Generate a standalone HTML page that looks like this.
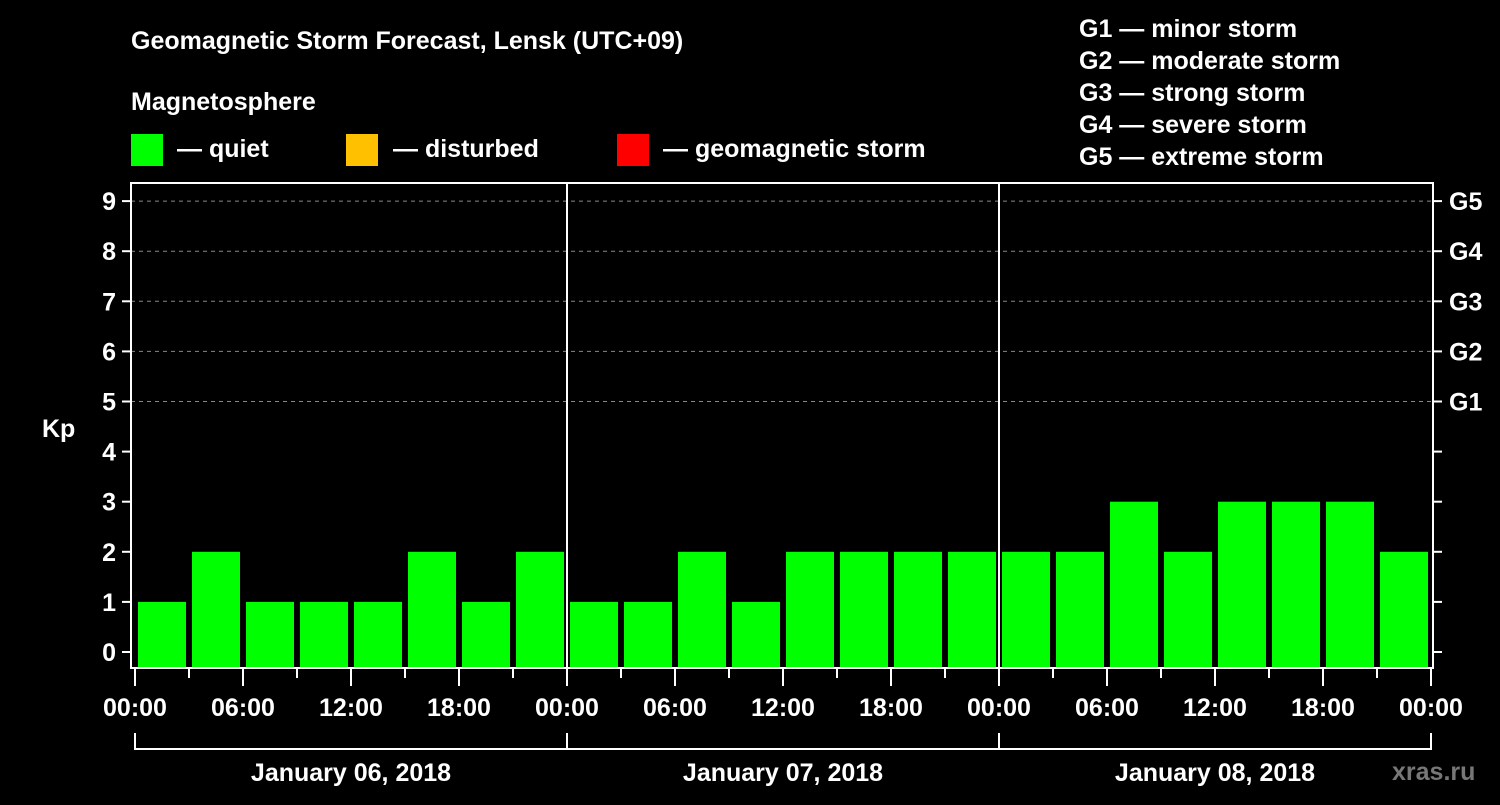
<!DOCTYPE html>
<html><head><meta charset="utf-8"><style>
html,body{margin:0;padding:0;background:#000;}
svg text{font-family:"Liberation Sans",Arial,sans-serif;font-weight:bold;fill:#fff;}
</style></head><body>
<svg id="chart" width="1500" height="800" viewBox="0 0 1500 800" xmlns="http://www.w3.org/2000/svg">
<rect width="1500" height="800" fill="#000"/>
<text x="131" y="49" font-size="25">Geomagnetic Storm Forecast, Lensk (UTC+09)</text>
<text x="131" y="110" font-size="25">Magnetosphere</text>
<g>
<rect x="131" y="134" width="32" height="32" fill="#00ff00"/>
<text x="177" y="157" font-size="25">— quiet</text>
<rect x="346" y="134" width="32" height="32" fill="#ffc000"/>
<text x="393" y="157" font-size="25">— disturbed</text>
<rect x="617" y="134" width="32" height="32" fill="#ff0000"/>
<text x="663" y="157" font-size="25">— geomagnetic storm</text>
</g>
<g font-size="25">
<text x="1079" y="37">G1 — minor storm</text>
<text x="1079" y="69">G2 — moderate storm</text>
<text x="1079" y="101">G3 — strong storm</text>
<text x="1079" y="133">G4 — severe storm</text>
<text x="1079" y="165">G5 — extreme storm</text>
</g>
<text x="42" y="437" font-size="25">Kp</text>
<text x="1392" y="780" font-size="25" fill="#777" style="fill:#777">xras.ru</text>
<g id="grid"></g>
<g id="bars"></g>
<g id="axes"></g>
</svg>
<script>
const dayLabels = ["January 06, 2018","January 07, 2018","January 08, 2018"];
const kpValues = [1,2,1,1,1,2,1,2, 1,1,2,1,2,2,2,2, 2,2,3,2,3,3,3,2];
const yTicks = [0,1,2,3,4,5,6,7,8,9];
const gLabels = ["G1","G2","G3","G4","G5"];
const timeLabels = ["00:00","06:00","12:00","18:00"];

const NS="http://www.w3.org/2000/svg";
const X0=135, SLOT=54, Y0=652, UNIT=50.1, LEFT=131, RIGHT=1433, TOP=183, BOTTOM=668;
const xs = i => X0 + i*SLOT;
const ys = v => Y0 - v*UNIT;
function mk(tag, attrs, parent){const e=document.createElementNS(NS,tag);for(const k in attrs)e.setAttribute(k,attrs[k]);parent.appendChild(e);return e;}
const grid=document.getElementById('grid'), bars=document.getElementById('bars'), axes=document.getElementById('axes');

// grid lines at 5..9
yTicks.forEach(v=>{ if(v>=5){ const l=mk('line',{x1:LEFT,x2:RIGHT,y1:ys(v),y2:ys(v),stroke:'#888','stroke-dasharray':'4,4','stroke-width':1},grid);

}});

kpValues.forEach((v,i)=>{
 const c = v>=5?'#ff0000':(v>=4?'#ffc000':'#00ff00');
 const r=mk('rect',{x:xs(i)+3,y:ys(v),width:SLOT-6,height:BOTTOM-1-ys(v),fill:c},bars);
 
 
});

// frame
const f=mk('rect',{x:LEFT,y:TOP,width:RIGHT-LEFT,height:BOTTOM-TOP,fill:'none',stroke:'#fff','stroke-width':2},axes);


// day separators
for(let d=1;d<dayLabels.length;d++){const l=mk('line',{x1:xs(d*8),x2:xs(d*8),y1:TOP,y2:BOTTOM,stroke:'#fff','stroke-width':2},axes);

}
// y ticks
yTicks.forEach(v=>{
 mk('line',{x1:122,x2:LEFT,y1:ys(v),y2:ys(v),stroke:'#fff','stroke-width':2},axes);
 mk('line',{x1:RIGHT,x2:1442,y1:ys(v),y2:ys(v),stroke:'#fff','stroke-width':2},axes);
 const t=mk('text',{x:116,y:ys(v)+9,'font-size':25,'text-anchor':'end'},axes);t.textContent=v;
 
 
});
gLabels.forEach((g,i)=>{const t=mk('text',{x:1449,y:ys(5+i)+9,'font-size':25},axes);t.textContent=g;
 
 });
// x ticks
for(let i=0;i<=kpValues.length;i++){
 const major=i%2===0;
 mk('line',{x1:xs(i),x2:xs(i),y1:BOTTOM+1,y2:major?686:678,stroke:'#fff','stroke-width':2},axes);
 if(major){const t=mk('text',{x:xs(i),y:716,'font-size':25,'text-anchor':'middle'},axes);
  t.textContent=i===kpValues.length?timeLabels[0]:timeLabels[(i/2)%4];
  
  }
}
// day brackets
mk('line',{x1:xs(0),x2:xs(kpValues.length),y1:749,y2:749,stroke:'#fff','stroke-width':2},axes);
for(let d=0;d<=dayLabels.length;d++) mk('line',{x1:xs(d*8),x2:xs(d*8),y1:733,y2:750,stroke:'#fff','stroke-width':2},axes);
dayLabels.forEach((lab,d)=>{const t=mk('text',{x:xs(d*8+4),y:781,'font-size':25,'text-anchor':'middle'},axes);t.textContent=lab;
 
 });
</script>
</body></html>
